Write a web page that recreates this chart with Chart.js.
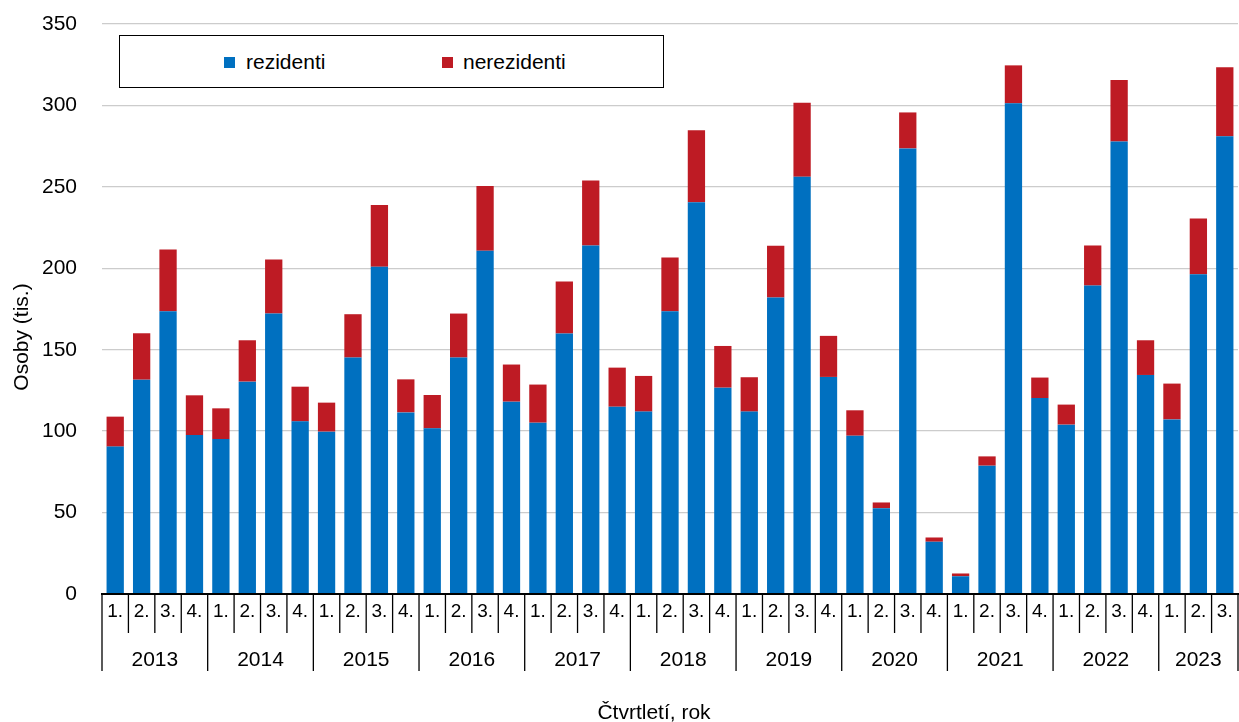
<!DOCTYPE html>
<html>
<head>
<meta charset="utf-8">
<script src="https://cdn.jsdelivr.net/npm/chart.js@4.4.0/dist/chart.umd.min.js"></script>
<style>
    html, body { margin: 0; padding: 0; background: #fff; }
    #wrap { position: relative; width: 1239px; height: 722px; }
    #graf { position: absolute; left: 0; top: 0; }
    #legenda {
        position: absolute; left: 119px; top: 35px; width: 545px; height: 53px;
        box-sizing: border-box; border: 1.3px solid #000; background: #fff;
    }
    .ctverec { position: absolute; width: 11px; height: 11px; top: 57px; }
    .popisek {
        position: absolute; top: 50px; line-height: 21px; white-space: nowrap;
        font: 21px "Liberation Sans", Arial, sans-serif; color: #000;
    }
</style>
</head>
<body>
<div id="wrap">
    <canvas id="graf" width="1239" height="722"></canvas>
    <div id="legenda"></div>
    <div class="ctverec" style="left:224px; background:#0070c0"></div>
    <div class="popisek" style="left:246px">rezidenti</div>
    <div class="ctverec" style="left:442px; background:#be1b24"></div>
    <div class="popisek" style="left:463px">nerezidenti</div>
</div>
<script>
const roky = [2013, 2014, 2015, 2016, 2017, 2018, 2019, 2020, 2021, 2022, 2023];
const pocetCtvrtleti = [4, 4, 4, 4, 4, 4, 4, 4, 4, 4, 3];
const ctvrtleti = ["1.", "2.", "3.", "4."];

// tis. osob
const rezidenti = [
    90.5, 131.6, 173.6, 97.6,
    95.1, 130.4, 172.2, 106.0,
    99.7, 145.2, 200.9, 111.5,
    101.7, 145.2, 210.7, 118.1,
    105.2, 159.9, 214.0, 115.0,
    112.0, 173.6, 240.6, 126.7,
    112.0, 182.0, 256.2, 133.3,
    97.2, 52.7, 273.6, 32.1,
    10.9, 78.8, 301.3, 120.3,
    104.0, 189.4, 277.9, 134.5,
    107.2, 196.4, 281.0
];
const nerezidenti = [
    18.4, 28.5, 37.9, 24.4,
    18.9, 25.4, 33.2, 21.3,
    17.8, 26.6, 37.9, 20.3,
    20.5, 27.0, 39.9, 22.8,
    23.4, 32.0, 39.9, 24.0,
    21.9, 33.0, 44.1, 25.6,
    21.1, 31.8, 45.4, 25.2,
    15.6, 3.5, 22.1, 2.6,
    1.7, 5.7, 23.3, 12.6,
    12.3, 24.6, 37.7, 21.3,
    22.0, 34.2, 42.4
];

const popisky = [];
const kvartaly = [];
roky.forEach((rok, r) => {
    for (let q = 0; q < pocetCtvrtleti[r]; q++) {
        popisky.push(rok + " " + ctvrtleti[q]);
        kvartaly.push(ctvrtleti[q]);
    }
});

const pismo = '"Liberation Sans", Arial, sans-serif';
Chart.defaults.font.family = pismo;
Chart.defaults.color = "#000";

// dvouradkova osa x (ctvrtleti + roky) a nazvy os
const osaX = {
    id: "osaX",
    afterDraw(chart) {
        const ctx = chart.ctx;
        const x = chart.scales.x;
        const dole = chart.chartArea.bottom;
        const krok = x.getPixelForValue(1) - x.getPixelForValue(0);

        ctx.save();
        ctx.strokeStyle = "#000";
        ctx.lineWidth = 1.3;
        ctx.fillStyle = "#000";
        ctx.textAlign = "center";
        ctx.textBaseline = "alphabetic";

        ctx.font = "19px " + pismo;
        kvartaly.forEach((q, i) => {
            const cx = x.getPixelForValue(i);
            ctx.fillText(q, cx, 617);
            const hrana = cx - krok / 2;
            ctx.beginPath();
            ctx.moveTo(hrana, dole);
            ctx.lineTo(hrana, q === "1." ? 671 : 633);
            ctx.stroke();
        });
        const konec = x.getPixelForValue(kvartaly.length - 1) + krok / 2;
        ctx.beginPath();
        ctx.moveTo(konec, dole);
        ctx.lineTo(konec, 671);
        ctx.stroke();

        ctx.font = "21px " + pismo;
        let i0 = 0;
        roky.forEach((rok, r) => {
            const a = x.getPixelForValue(i0) - krok / 2;
            const b = x.getPixelForValue(i0 + pocetCtvrtleti[r] - 1) + krok / 2;
            ctx.fillText(String(rok), (a + b) / 2, 666);
            i0 += pocetCtvrtleti[r];
        });

        ctx.fillText("Čtvrtletí, rok", 654, 719);

        ctx.translate(27.5, 337);
        ctx.rotate(-Math.PI / 2);
        ctx.fillText("Osoby (tis.)", 0, 0);
        ctx.restore();
    }
};

new Chart(document.getElementById("graf"), {
    type: "bar",
    data: {
        labels: popisky,
        datasets: [
            {
                label: "rezidenti",
                data: rezidenti,
                backgroundColor: "#0070c0"
            },
            {
                label: "nerezidenti",
                data: nerezidenti,
                backgroundColor: "#be1b24"
            }
        ]
    },
    options: {
        responsive: false,
        animation: false,
        barPercentage: 0.655,
        categoryPercentage: 1,
        layout: {
            padding: { top: 24, right: 1, bottom: 0, left: 0 }
        },
        plugins: {
            legend: { display: false },
            tooltip: { enabled: false }
        },
        scales: {
            x: {
                stacked: true,
                ticks: { display: false },
                grid: { display: false },
                border: { display: true, color: "#000", width: 2, z: 1 },
                afterFit(s) { s.height = 128; }
            },
            y: {
                stacked: true,
                min: 0,
                max: 350,
                ticks: {
                    stepSize: 50,
                    padding: 25,
                    color: "#000",
                    font: { size: 21 }
                },
                grid: {
                    color: "#cccccc",
                    lineWidth: 1.3,
                    drawTicks: false
                },
                border: { display: false },
                afterFit(s) {
                    s.width = 102;
                    s.paddingTop = 0;
                    s.paddingBottom = 0;
                }
            }
        }
    },
    plugins: [osaX]
});
</script>
</body>
</html>
